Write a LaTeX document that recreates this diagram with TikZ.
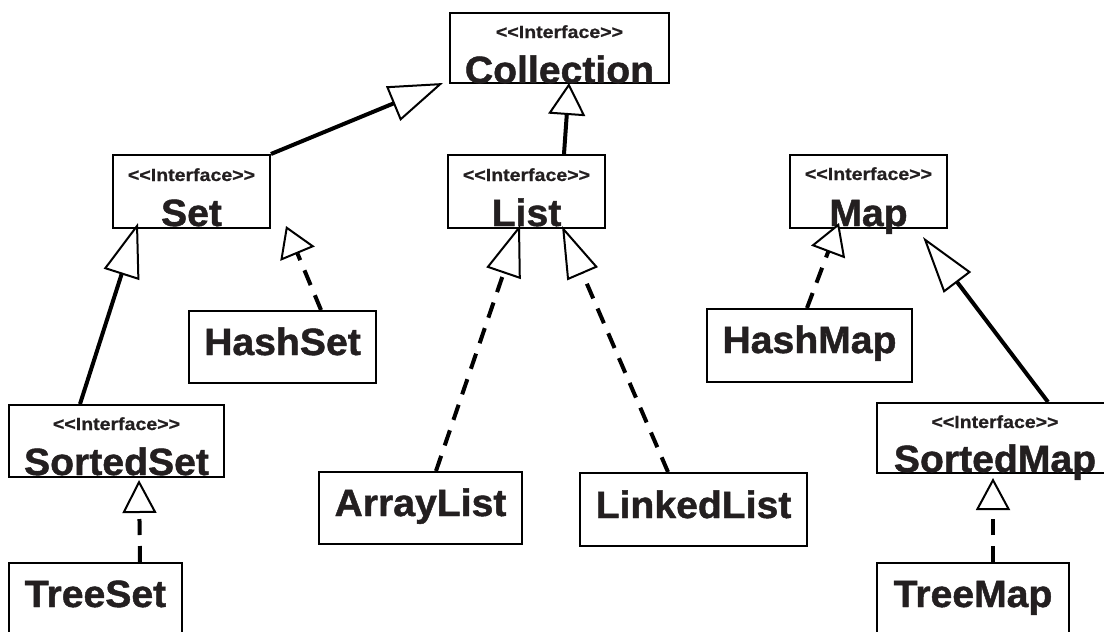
\documentclass[tikz,border=0pt]{standalone}
\usepackage{fontspec}
\usetikzlibrary{arrows.meta}
\newfontfamily\bigfont{Liberation Sans Bold}[FakeStretch=1.03, FakeBold=1.2, Ligatures=TeXOff]
\newfontfamily\smallfont{Liberation Sans Bold}[FakeStretch=1.11, FakeBold=0.8, Ligatures=TeXOff]
\definecolor{ink}{RGB}{35,31,32}
\begin{document}
\begin{tikzpicture}[x=1pt,y=-1pt,
  box/.style={draw=black, line width=2pt, inner sep=0pt, rectangle},
  bigtxt/.style={anchor=base, inner sep=0pt, text=ink, font=\bigfont\fontsize{38}{40}\selectfont},
  smalltxt/.style={anchor=base, inner sep=0pt, text=ink, font=\smallfont\fontsize{17.6}{19}\selectfont},
  gen/.style={line width=4pt},
  real/.style={line width=4pt, dash pattern=on 16pt off 11pt},
  tri/.style args={#1/#2}{-{Triangle[open, fill=white, line width=2pt, length=#1pt, width=#2pt]}}
]
\useasboundingbox (0,0) rectangle (1104,632);
\fill[white] (0,0) rectangle (1104,632);

% boxes
\node[box, minimum width=219pt, minimum height=70pt] (coll) at (559.5,48) {};
\node[box, minimum width=157pt, minimum height=73pt] (set) at (191.5,191.5) {};
\node[box, minimum width=157pt, minimum height=73pt] (list) at (526.5,191.5) {};
\node[box, minimum width=157pt, minimum height=73pt] (map) at (868.5,191.5) {};
\node[box, minimum width=187pt, minimum height=72pt] (hashset) at (282.5,347) {};
\node[box, minimum width=205pt, minimum height=73pt] (hashmap) at (809.5,345.5) {};
\node[box, minimum width=215pt, minimum height=72pt] (sortedset) at (116.5,441) {};
\node[box, minimum width=236pt, minimum height=70pt] (sortedmap) at (995,438) {};
\node[box, minimum width=203pt, minimum height=72pt] (arraylist) at (420.5,508) {};
\node[box, minimum width=227pt, minimum height=73pt] (linkedlist) at (693.5,509.5) {};
\node[box, minimum width=173pt, minimum height=73pt] (treeset) at (95.5,599.5) {};
\node[box, minimum width=192pt, minimum height=73pt] (treemap) at (973,599.5) {};

% texts
\node[smalltxt] (collS) at (559.5,38) {<<Interface>>};
\node[bigtxt] (collT) at (559.5,83) {Collection};
\node[smalltxt] (setS) at (191.5,181) {<<Interface>>};
\node[bigtxt] (setT) at (191.5,226) {Set};
\node[smalltxt] (listS) at (526.5,181) {<<Interface>>};
\node[bigtxt] (listT) at (526.5,226) {List};
\node[smalltxt] (mapS) at (868.5,180) {<<Interface>>};
\node[bigtxt] (mapT) at (868.5,226) {Map};
\node[smalltxt] (ssS) at (116.5,430) {<<Interface>>};
\node[bigtxt] (ssT) at (116.5,475) {SortedSet};
\node[smalltxt] (smS) at (995,428) {<<Interface>>};
\node[bigtxt] (smT) at (995,472) {SortedMap};
\node[bigtxt] (hsT) at (282.5,355) {HashSet};
\node[bigtxt] (hmT) at (809.5,353) {HashMap};
\node[bigtxt] (alT) at (420.5,516) {ArrayList};
\node[bigtxt] (llT) at (693.5,518) {LinkedList};
\node[bigtxt] (tsT) at (95.5,607) {TreeSet};
\node[bigtxt] (tmT) at (973,607) {TreeMap};

% arrow tip points
\coordinate (collA) at (443,83);
\coordinate (collB) at (569,83);
\coordinate (setA) at (138,223);
\coordinate (setB) at (286,226);
\coordinate (listA) at (520,225);
\coordinate (listB) at (562,226);
\coordinate (mapA) at (839,223);
\coordinate (mapB) at (923,237);
\coordinate (ssA) at (139,480);
\coordinate (smA) at (993,478);

% connectors
\draw[gen, tri=54/37] (set.north east) -- (collA);
\draw[gen, tri=32/37] ([xshift=37.5pt]list.north) -- (collB);
\draw[gen, tri=54/37] ([xshift=-36.5pt]sortedset.north) -- (setA);
\draw[real, tri=30/37] ([xshift=38.5pt]hashset.north) -- (setB);
\draw[real, tri=51/36] ([xshift=15.5pt]arraylist.north) -- (listA);
\draw[real, tri=52/33] ([xshift=-25.5pt]linkedlist.north) -- (listB);
\draw[real, tri=31/36] ([xshift=-2.5pt]hashmap.north) -- (mapA);
\draw[gen, tri=57/34] ([xshift=53pt]sortedmap.north) -- (mapB);
\draw[real, tri=33/34] ([xshift=44.5pt]treeset.north) -- (ssA);
\draw[real, tri=32/34] ([xshift=20pt]treemap.north) -- (smA);
\end{tikzpicture}
\end{document}
